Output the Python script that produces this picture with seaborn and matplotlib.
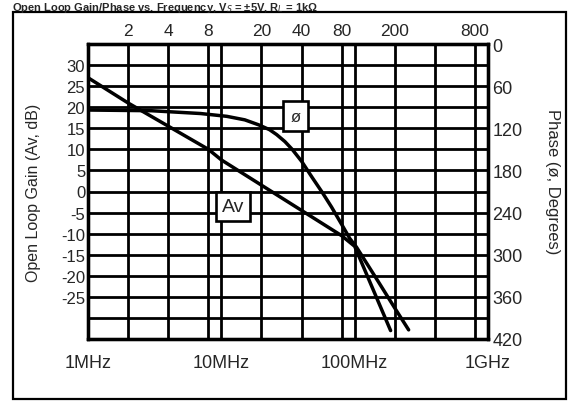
import matplotlib
matplotlib.use("Agg")
import matplotlib.pyplot as plt
import seaborn as sns
import numpy as np
from matplotlib.patches import Rectangle
from matplotlib.ticker import NullLocator

# open loop gain Av (dB)
gain_freq_mhz = [1, 2, 4, 8, 10, 20, 40, 80, 100, 186]
gain_db = [27, 21, 15.5, 10, 7.5, 1.5, -4.5, -10.5, -13, -33]

# phase (degrees)
phase_freq_mhz = [1, 3, 7, 11, 15, 19, 23, 26, 30, 34, 40, 48, 57, 67, 80, 92, 103, 150, 200, 254]
phase_deg = [94, 95, 99, 103, 108, 115, 122, 129, 139, 150, 167, 190, 211, 232, 257, 277, 289, 338, 376, 407]

grid_freq_mhz = [1, 2, 4, 8, 10, 20, 40, 80, 100, 200, 400, 800, 1000]
top_labels = ["", "2", "4", "8", "", "20", "40", "80", "", "200", "", "800", ""]
bottom_labels = ["1MHz", "", "", "", "10MHz", "", "", "", "100MHz", "", "", "", "1GHz"]
gain_ticks = list(range(-35, 40, 5))
gain_labels = [str(v) if -25 <= v <= 30 else "" for v in gain_ticks]
phase_ticks = list(range(0, 421, 60))
phase_labels = [str(v) for v in phase_ticks]

sns.set_style("white")
plt.rcParams['font.family'] = ['Liberation Sans', 'DejaVu Sans']

W, H = 569, 402
fig = plt.figure(figsize=(W / 100, H / 100), dpi=100)
ax = fig.add_axes([88 / W, 1 - 340 / H, 400 / W, 295 / H])

grid_hz = np.array(grid_freq_mhz) * 1e6
LW = 2.0

# gain on the left axis
sns.lineplot(x=np.array(gain_freq_mhz) * 1e6, y=gain_db, ax=ax, color="black", lw=2.5, zorder=5)
ax.set_xscale("log")
ax.set_xlim(1e6, 1e9)
ax.set_ylim(-35, 35)
ax.set_xticks(grid_hz, labels=bottom_labels)
ax.xaxis.set_minor_locator(NullLocator())
ax.set_yticks(gain_ticks, labels=gain_labels)
ax.grid(True, color="black", lw=LW)
ax.tick_params(axis="x", length=0, pad=11, labelsize=13)
ax.tick_params(axis="y", length=0, pad=2, labelsize=12)
ax.set_xlabel("")
ax.set_ylabel("Open Loop Gain (Av, dB)", fontsize=11.5, va="center")
ax.yaxis.set_label_coords(-0.135, 0.5)

# phase on the right axis
ax2 = ax.twinx()
sns.lineplot(x=np.array(phase_freq_mhz) * 1e6, y=phase_deg, ax=ax2, color="black", lw=2.5, zorder=5)
ax2.set_ylim(420, 0)
ax2.set_yticks(phase_ticks, labels=phase_labels)
ax2.tick_params(axis="y", length=0, pad=3, labelsize=13)
ax2.set_ylabel("Phase (ø, Degrees)", fontsize=12, rotation=270, va="center")
ax2.yaxis.set_label_coords(1.1625, 0.536)

# frequency in MHz along the top
ax3 = ax.twiny()
ax3.set_xscale("log")
ax3.set_xlim(1e6, 1e9)
ax3.set_xticks(grid_hz, labels=top_labels)
ax3.xaxis.set_minor_locator(NullLocator())
ax3.tick_params(axis="x", length=0, pad=4, labelsize=12.5)

for a in (ax, ax2, ax3):
    for s in a.spines.values():
        s.set_color("black")
        s.set_linewidth(2.3)

ax2.text(36e6, 103, "ø", fontsize=12, ha="center", va="center", zorder=10,
         bbox=dict(boxstyle="square,pad=0.45", facecolor="white", edgecolor="black", lw=1.9))
ax2.text(12.3e6, 231, "Av", fontsize=14, ha="center", va="center", zorder=10,
         bbox=dict(boxstyle="square,pad=0.3", facecolor="white", edgecolor="black", lw=1.9))

# outer frame and heading
fig.patches.append(Rectangle((13 / W, 2 / H), 553 / W, 387 / H, transform=fig.transFigure,
                             fill=False, edgecolor="black", lw=1.6))
fig.text(12 / W, 1 - 1 / H, "Open Loop Gain/Phase vs. Frequency, V$_S$ = ±5V, R$_L$ = 1kΩ",
         fontsize=8, fontweight="bold", ha="left", va="top")

fig.savefig("out.png", dpi=100)
